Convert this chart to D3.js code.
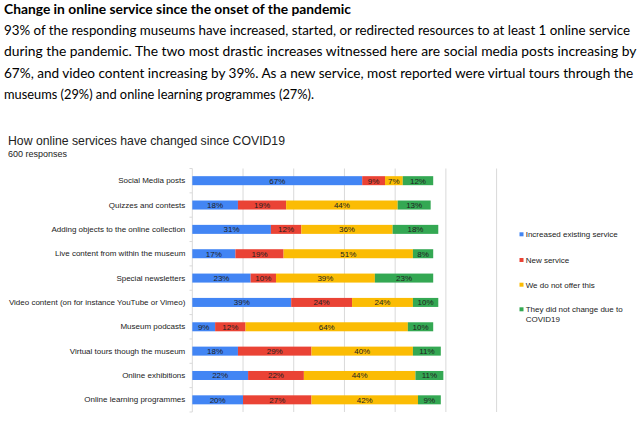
<!DOCTYPE html>
<html><head><meta charset="utf-8">
<script src="https://cdn.jsdelivr.net/npm/d3@7"></script>
<style>body{margin:0;background:#fff}svg{display:block}</style>
</head><body>
<script>
const headerTitle = "Change in online service since the onset of the pandemic";
const headerLines = [
  "93% of the responding museums have increased, started, or redirected resources to at least 1 online service",
  "during the pandemic. The two most drastic increases witnessed here are social media posts increasing by",
  "67%, and video content increasing by 39%.  As a new service, most reported were virtual tours through the",
  "museums (29%) and online learning programmes (27%)."
];
const chartTitle = "How online services have changed since COVID19";
const chartSubtitle = "600 responses";
const categories = [
  "Social Media posts",
  "Quizzes and contests",
  "Adding objects to the online collection",
  "Live content from within the museum",
  "Special newsletters",
  "Video content (on for instance YouTube or Vimeo)",
  "Museum podcasts",
  "Virtual tours though the museum",
  "Online exhibitions",
  "Online learning programmes"
];
const seriesNames = ["Increased existing service", "New service", "We do not offer this", "They did not change due to COVID19"];
const increased  = [67, 18, 31, 17, 23, 39,  9, 18, 22, 20];
const newService = [ 9, 19, 12, 19, 10, 24, 12, 29, 22, 27];
const notOffered = [ 7, 44, 36, 51, 39, 24, 64, 40, 44, 42];
const unchanged  = [12, 13, 18,  8, 23, 10, 10, 11, 11,  9];
const xTicks = [0, 20, 40, 60, 80, 100, 120];
const colors = ["#4285F4", "#EA4335", "#FBBC04", "#34A853"];

const W = 642, H = 424;
const svg = d3.select("body").append("svg").attr("width", W).attr("height", H);

// Header paragraph
const hdrFont = "Lato, Carlito, Calibri, 'Open Sans', sans-serif";
svg.append("text").attr("x", 4).attr("y", 13.5)
  .attr("font-family", hdrFont).attr("font-weight", "bold").attr("font-size", 13.8)
  .attr("fill", "#000").attr("textLength", 347).attr("lengthAdjust", "spacingAndGlyphs")
  .text(headerTitle);
const lineEnds = [630, 636.5, 633.3, 314];
const lineY = [35, 56.3, 77.6, 99];
headerLines.forEach((t, i) => {
  svg.append("text").attr("x", 4).attr("y", lineY[i])
    .attr("font-family", hdrFont).attr("font-size", 13.3).attr("fill", "#000")
    .attr("textLength", lineEnds[i] - 4).attr("lengthAdjust", "spacingAndGlyphs")
    .text(t);
});

// Chart titles
const chFont = "Arial, 'Liberation Sans', sans-serif";
svg.append("text").attr("x", 8).attr("y", 145)
  .attr("font-family", chFont).attr("font-size", 13).attr("fill", "#222")
  .attr("textLength", 277).attr("lengthAdjust", "spacingAndGlyphs")
  .text(chartTitle);
svg.append("text").attr("x", 8).attr("y", 157)
  .attr("font-family", chFont).attr("font-size", 9).attr("fill", "#222")
  .text(chartSubtitle);

// Scales
const x = d3.scaleLinear().domain([0, 120]).range([192.3, 496.6]);
const y = d3.scaleBand().domain(categories).range([168.5, 412])
  .paddingInner(0.63).paddingOuter(0.315);

// Gridlines
svg.append("g").selectAll("line").data(xTicks).join("line")
  .attr("x1", d => x(d)).attr("x2", d => x(d))
  .attr("y1", 168.5).attr("y2", 412)
  .attr("stroke", "#d9d9d9").attr("stroke-width", 1);

// Left ticks at band boundaries
const step = y.step();
const bounds = d3.range(categories.length + 1).map(k => 168.5 + k * step);
svg.append("g").selectAll("line").data(bounds).join("line")
  .attr("x1", 189.5).attr("x2", x(0)).attr("y1", d => d).attr("y2", d => d)
  .attr("stroke", "#d9d9d9").attr("stroke-width", 1);

// Stack
const rows = categories.map((c, i) => ({cat: c, s0: increased[i], s1: newService[i], s2: notOffered[i], s3: unchanged[i]}));
const stack = d3.stack().keys(["s0", "s1", "s2", "s3"])(rows);

const g = svg.append("g");
stack.forEach((layer, li) => {
  g.append("g").selectAll("rect").data(layer).join("rect")
    .attr("x", d => x(d[0])).attr("width", d => x(d[1]) - x(d[0]))
    .attr("y", d => y(d.data.cat)).attr("height", y.bandwidth())
    .attr("fill", colors[li]);
  g.append("g").selectAll("text").data(layer).join("text")
    .attr("x", d => (x(d[0]) + x(d[1])) / 2)
    .attr("y", d => y(d.data.cat) + y.bandwidth() / 2 + 3)
    .attr("text-anchor", "middle")
    .attr("font-family", chFont).attr("font-size", 8).attr("fill", "#222")
    .text(d => (d[1] - d[0]) + "%");
});

// Category labels
const yAxis = d3.axisLeft(y).tickSize(0).tickPadding(7);
const ya = svg.append("g").attr("transform", `translate(${x(0)},0)`).call(yAxis);
ya.select(".domain").remove();
ya.selectAll("text").attr("font-family", chFont).attr("font-size", 8).attr("fill", "#222");

// Legend
const legY = [234.3, 260, 284.7, 309.3];
const leg = svg.append("g");
seriesNames.forEach((name, i) => {
  leg.append("rect").attr("x", 519.5).attr("y", legY[i] - 2).attr("width", 4).attr("height", 4).attr("fill", colors[i]);
  const t = leg.append("text").attr("x", 525.7).attr("y", legY[i] + 3)
    .attr("font-family", chFont).attr("font-size", 8).attr("fill", "#222");
  if (name === "They did not change due to COVID19") {
    t.append("tspan").attr("x", 525.7).text("They did not change due to");
    t.append("tspan").attr("x", 525.7).attr("dy", 9.4).text("COVID19");
  } else {
    t.text(name);
  }
});
</script>
</body></html>
